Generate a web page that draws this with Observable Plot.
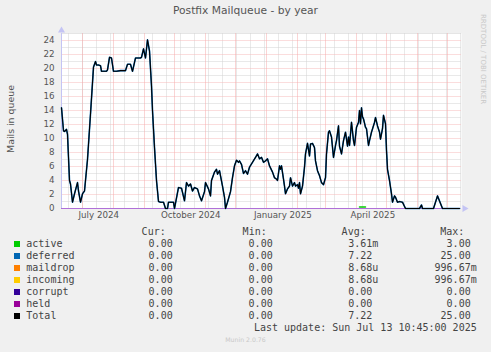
<!DOCTYPE html>
<html><head><meta charset="utf-8">
<script src="https://cdn.jsdelivr.net/npm/d3@7"></script>
<script src="https://cdn.jsdelivr.net/npm/@observablehq/plot@0.6"></script>
<style>
html,body{margin:0;padding:0;background:#f0f0f0;}
body{width:491px;height:352px;overflow:hidden;position:relative;font-family:"DejaVu Sans",sans-serif;}
#chart{position:absolute;left:0;top:0;}
.abs{position:absolute;white-space:pre;}
#title{left:0;width:491px;top:4px;text-align:center;font-size:10.7px;line-height:13px;color:#555;}
#ylab{left:10px;top:119px;font-size:9.4px;color:#555;transform:translate(-50%,-50%) rotate(-90deg);line-height:11px;}
#rrd{left:483px;top:14px;font-size:7px;color:#c8c8c8;transform-origin:0 0;transform:translate(4px,0) rotate(90deg);line-height:8px;}
.leg{font-family:"DejaVu Sans Mono",monospace;font-size:10px;line-height:12px;color:#444;}
.sq{position:absolute;width:6px;height:6px;}
#munin{left:0;width:491px;text-align:center;top:336px;font-size:6.2px;color:#c8c8c8;}
</style></head>
<body>
<div id="title" class="abs">Postfix Mailqueue - by year</div>
<div id="ylab" class="abs">Mails in queue</div>
<div id="rrd" class="abs">RRDTOOL / TOBI OETIKER</div>
<div id="munin" class="abs">Munin 2.0.76</div>
<script>
// ---- data ----
const totalDates = ["2024-06-10","2024-06-12","2024-06-13","2024-06-15","2024-06-16","2024-06-18","2024-06-19","2024-06-21","2024-06-23","2024-06-26","2024-06-27","2024-06-29",
"2024-07-01","2024-07-03","2024-07-04","2024-07-06","2024-07-09","2024-07-12","2024-07-14","2024-07-15","2024-07-17","2024-07-19","2024-07-20","2024-07-22","2024-07-25","2024-07-26","2024-07-28","2024-07-30",
"2024-08-01","2024-08-04","2024-08-08","2024-08-13","2024-08-15","2024-08-18","2024-08-20","2024-08-23","2024-08-28","2024-08-29","2024-08-31",
"2024-09-02","2024-09-04","2024-09-06","2024-09-08","2024-09-09","2024-09-11","2024-09-13","2024-09-15","2024-09-17","2024-09-20","2024-09-22","2024-09-24","2024-09-25","2024-09-30",
"2024-10-01","2024-10-05","2024-10-08","2024-10-11","2024-10-13","2024-10-15","2024-10-17","2024-10-19","2024-10-21","2024-10-24","2024-10-26","2024-10-28","2024-10-31",
"2024-11-01","2024-11-04","2024-11-06","2024-11-07","2024-11-10","2024-11-12","2024-11-13","2024-11-15","2024-11-18","2024-11-20","2024-11-21","2024-11-23","2024-11-26","2024-11-28","2024-11-30",
"2024-12-02","2024-12-04","2024-12-05","2024-12-07","2024-12-09","2024-12-11","2024-12-13","2024-12-15","2024-12-18","2024-12-21","2024-12-23","2024-12-25","2024-12-27","2024-12-29","2024-12-31",
"2025-01-02","2025-01-04","2025-01-07","2025-01-09","2025-01-11","2025-01-12","2025-01-14","2025-01-15","2025-01-16","2025-01-18","2025-01-19","2025-01-20","2025-01-22","2025-01-24","2025-01-25","2025-01-27","2025-01-29","2025-01-30",
"2025-02-01","2025-02-02","2025-02-03","2025-02-04","2025-02-06","2025-02-08","2025-02-09","2025-02-11","2025-02-13","2025-02-14","2025-02-16","2025-02-18","2025-02-19","2025-02-21","2025-02-23","2025-02-25","2025-02-27",
"2025-03-01","2025-03-02","2025-03-04","2025-03-05","2025-03-07","2025-03-09","2025-03-11","2025-03-12","2025-03-14","2025-03-15","2025-03-17","2025-03-19","2025-03-21","2025-03-23","2025-03-24","2025-03-25","2025-03-27","2025-03-29","2025-03-30",
"2025-04-01","2025-04-03","2025-04-04","2025-04-05","2025-04-06","2025-04-07","2025-04-08","2025-04-10","2025-04-11","2025-04-13","2025-04-14","2025-04-16","2025-04-19","2025-04-20","2025-04-22","2025-04-24","2025-04-25","2025-04-27","2025-04-28","2025-04-30",
"2025-05-01","2025-05-02","2025-05-04","2025-05-06","2025-05-07","2025-05-09","2025-05-10","2025-05-12","2025-05-14","2025-05-17","2025-05-20",
"2025-06-03","2025-06-05","2025-06-06","2025-06-17","2025-06-21","2025-06-26","2025-07-13"];
const totalValues = [14.4,11.1,11.0,11.3,10.6,4.0,3.5,0.9,2.1,3.7,2.5,0.9,
2.1,2.5,4.0,7.0,13.5,20.2,21.0,20.5,20.5,20.4,19.6,19.6,19.6,19.8,21.6,21.5,
19.6,19.6,19.7,19.7,20.6,20.6,19.6,21.5,21.5,21.6,22.8,
21.5,24.1,22.5,17.5,14.0,8.7,4.0,1.0,0.9,0.9,0.0,0.0,0.9,0.9,
0.0,3.0,2.9,1.1,3.7,3.2,3.5,2.5,3.0,2.8,1.8,1.1,2.4,
3.7,2.8,1.8,4.0,5.2,5.6,4.9,5.4,3.2,1.6,0.0,0.9,2.4,4.4,6.1,
6.9,6.6,6.8,6.3,5.0,5.4,4.9,5.9,6.6,7.3,7.8,7.1,7.3,6.6,6.8,
7.1,6.1,5.2,4.4,4.2,4.0,6.1,5.6,6.1,4.2,3.2,2.1,2.8,3.2,4.4,3.2,3.7,3.2,
3.4,2.9,3.7,2.1,3.2,5.9,7.8,9.3,7.5,9.2,9.3,8.7,6.8,5.4,4.7,3.7,3.4,
4.4,7.8,10.9,11.1,10.2,7.3,9.0,9.7,11.8,8.9,7.8,9.7,10.9,8.9,10.2,9.0,12.3,9.7,9.0,
11.6,12.3,14.0,12.1,14.4,13.1,12.8,11.6,11.4,9.0,9.7,10.9,12.3,13.0,11.8,10.9,9.9,11.4,13.3,12.1,
8.3,5.6,4.0,2.1,0.9,1.8,1.6,0.9,1.0,0.9,0.0,
0.0,0.5,0.0,0.0,1.8,0.0,0.0];
const activeDates = ["2025-04-04","2025-04-10"];
const activeValues = [0.2,0.2];
const zeroDates = ["2024-06-10","2025-07-13"];
const zeroValues = [0,0];
const monthStarts = ["2024-07-01","2024-08-01","2024-09-01","2024-10-01","2024-11-01","2024-12-01","2025-01-01","2025-02-01","2025-03-01","2025-04-01","2025-05-01","2025-06-01","2025-07-01"];
const xTickMonths = ["2024-07-01","2024-10-01","2025-01-01","2025-04-01"];
const yTicks = [0,2,4,6,8,10,12,14,16,18,20,22,24];

const legendNames = ["active","deferred","maildrop","incoming","corrupt","held","Total"];
const legendColors = ["#00cc00","#0066b3","#ff8000","#ffcc00","#330099","#990099","#000000"];
const legendCur = ["0.00 ","0.00 ","0.00 ","0.00 ","0.00 ","0.00 ","0.00 "];
const legendMin = ["0.00 ","0.00 ","0.00 ","0.00 ","0.00 ","0.00 ","0.00 "];
const legendAvg = ["3.61m","7.22 ","8.68u","8.68u","0.00 ","0.00 ","7.22 "];
const legendMax = ["3.00 ","25.00 ","996.67m","996.67m","0.00 ","0.00 ","25.00 "];
const lastUpdate = "Last update: Sun Jul 13 10:45:00 2025";

// ---- build ----
const P = d3.utcParse("%Y-%m-%d");
const total = totalDates.map((d,i)=>({date:P(d), value:totalValues[i]}));
const active = activeDates.map((d,i)=>({date:P(d), value:activeValues[i]}));
const zero = zeroDates.map((d,i)=>({date:P(d), value:zeroValues[i]}));
const months = monthStarts.map(P);
const x0 = d3.utcDay.offset(months[0], -21);
const x1 = d3.utcDay.offset(x0, 400);
const minorX = d3.utcDay.range(d3.utcDay.offset(months[0], -14), x1, 14);
const minorY = d3.range(1, 26, 2);
const majorY = d3.range(2, 25, 2);
const xTicks = xTickMonths.map(d => d3.utcHour.offset(d3.utcDay.offset(P(d), 16), 7));
const fmt = d3.utcFormat("%B %Y");
const axisCol = "#c4c4f4";
const dots = {strokeDasharray: "1,1", strokeDashoffset: 0.5};

const chart = Plot.plot({
  width: 491, height: 225,
  marginLeft: 61, marginRight: 30, marginTop: 33, marginBottom: 17,
  style: {background: "transparent", fontFamily: "DejaVu Sans", fontSize: "8.7px", color: "#555", overflow: "visible"},
  x: {type: "utc", domain: [x0, x1]},
  y: {domain: [0, 25]},
  marks: [
    Plot.frame({fill: "white", stroke: "none"}),
    Plot.ruleY(minorY, {stroke: "#d2d2d2", ...dots}),
    Plot.ruleX(minorX, {stroke: "#d2d2d2", ...dots}),
    Plot.ruleY(majorY, {stroke: "#f7baba", ...dots}),
    Plot.ruleX(months, {stroke: "#f5aaaa", ...dots}),
    Plot.ruleY([0], {stroke: axisCol}),
    Plot.ruleX([x0], {stroke: axisCol, y1: 0, y2: 25}),
    Plot.dot([x0], {x: d => d, y: () => 25, symbol: "triangle", r: 2.6, dy: -3, fill: axisCol, stroke: "none"}),
    Plot.dot([x1], {x: d => d, y: () => 0, symbol: "triangle", r: 2.6, dx: 3, rotate: 90, fill: axisCol, stroke: "none"}),
    Plot.line(zero, {x: "date", y: "value", stroke: "#330099", strokeWidth: 1, strokeOpacity: 0.6}),
    Plot.line(zero, {x: "date", y: "value", stroke: "#b070d8", strokeWidth: 1}),
    Plot.line(active, {x: "date", y: "value", stroke: "#00cc00", strokeWidth: 1.5}),
    Plot.line(total, {x: "date", y: "value", stroke: "#0066b3", strokeWidth: 1.6}),
    Plot.line(total, {x: "date", y: "value", stroke: "#000", strokeWidth: 1.1}),
    Plot.axisY({ticks: yTicks, tickSize: 0, tickPadding: 7, fontSize: 8.7, label: null}),
    Plot.axisX({ticks: xTicks, tickSize: 0, tickPadding: 3, fontSize: 8.7, tickFormat: fmt, label: null})
  ]
});
chart.id = "chart";
document.body.appendChild(chart);

// legend
function span(text, left, right, top) {
  const s = document.createElement("div");
  s.className = "abs leg";
  s.textContent = text;
  if (left != null) s.style.left = left + "px";
  if (right != null) s.style.right = (491 - right) + "px";
  s.style.top = top + "px";
  document.body.appendChild(s);
}
const headTop = 226.3, rowTop = 238.3, rowH = 12;
span("Cur:", null, 165.7, headTop);
span("Min:", null, 266.7, headTop);
span("Avg:", null, 365.7, headTop);
span("Max:", null, 464.3, headTop);
legendNames.forEach((n, i) => {
  const t = rowTop + i * rowH;
  const sq = document.createElement("div");
  sq.className = "sq";
  sq.style.left = "14px"; sq.style.top = (t + 3) + "px"; sq.style.background = legendColors[i];
  document.body.appendChild(sq);
  span(n, 26.3, null, t);
  span(legendCur[i], null, 178.7, t);
  span(legendMin[i], null, 278.7, t);
  span(legendAvg[i], null, 378.3, t);
  span(legendMax[i], null, 476.7, t);
});
span(lastUpdate, null, 476.7, rowTop + 7 * rowH);
</script>
</body></html>
